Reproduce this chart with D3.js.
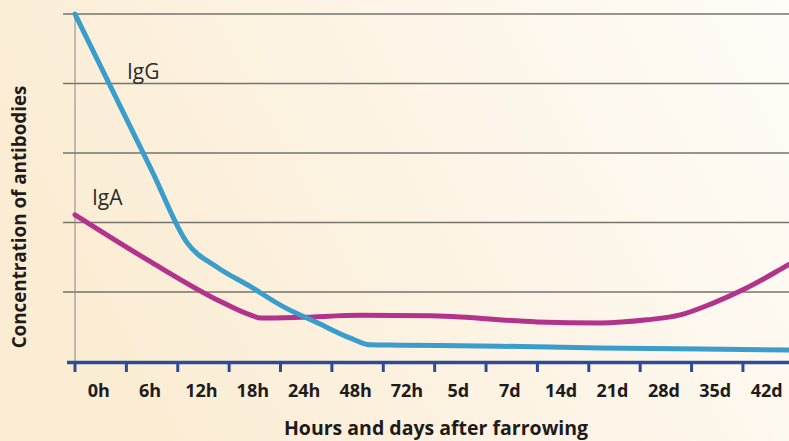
<!DOCTYPE html>
<html>
<head>
<meta charset="utf-8">
<script src="https://cdn.jsdelivr.net/npm/d3@7"></script>
<style>
html,body{margin:0;padding:0;overflow:hidden;}
svg{display:block;}
</style>
</head>
<body>
<svg id="chart" width="789" height="441"></svg>
<script>
// Category tick labels (x axis)
const categories = ["0h","6h","12h","18h","24h","48h","72h","5d","7d","14d","21d","28d","35d","42d"];
// Grid levels (y axis, arbitrary units)
const yLevels = [0,1,2,3,4,5];
// Series: [position along axis in category units, concentration]
const igG = [
  [0,5.0],[1.5,2.74],[2.18,1.71],[2.76,1.36],[3.41,1.08],[4.05,0.79],[4.71,0.56],
  [5.35,0.34],[5.74,0.24],[6.33,0.235],[8.27,0.22],[10.2,0.195],[12.2,0.18],[14,0.165]
];
const igA = [
  [0,2.11],[1.46,1.44],[2.76,0.89],[3.41,0.67],[3.62,0.625],[4.38,0.635],[5.55,0.665],
  [6.91,0.66],[7.49,0.64],[8.99,0.57],[10.22,0.555],[11.13,0.6],[11.78,0.67],
  [12.42,0.84],[13.08,1.06],[13.88,1.39],[14,1.44]
];
const seriesNames = ["IgG","IgA"];

const svg = d3.select("#chart");
const W = 789, H = 441;

// background
const defs = svg.append("defs");
const grad = defs.append("linearGradient").attr("id","bg").attr("x1","0").attr("y1","0.3").attr("x2","1").attr("y2","0");
grad.append("stop").attr("offset","0").attr("stop-color","#fbedd4");
grad.append("stop").attr("offset","0.55").attr("stop-color","#fdf5e8");
grad.append("stop").attr("offset","1").attr("stop-color","#fffdf8");
svg.append("rect").attr("width",W).attr("height",H).attr("fill","url(#bg)");

const x0 = 75, step = 51.38;
const x = d3.scaleLinear().domain([0, categories.length]).range([x0, x0 + step*categories.length]);
const band = d3.scaleBand().domain(categories).range([x0, x0 + step*categories.length]).padding(0);
const y = d3.scaleLinear().domain([0,5]).range([361.5, 14]);

// gridlines
svg.append("g").selectAll("line").data(yLevels.filter(d=>d>0)).join("line")
  .attr("x1",63).attr("x2",W).attr("y1",d=>y(d)).attr("y2",d=>y(d))
  .attr("stroke","#76736d").attr("stroke-width",1.4);

// vertical left line
svg.append("line").attr("x1",x(0)).attr("x2",x(0)).attr("y1",y(5)).attr("y2",y(0))
  .attr("stroke","#8a8680").attr("stroke-width",1);

// lines
const line = d3.line().x(d=>x(d[0])).y(d=>y(d[1])).curve(d3.curveMonotoneX);
svg.append("path").datum(igA).attr("d",line).attr("fill","none")
  .attr("stroke","#b3338c").attr("stroke-width",5).attr("stroke-linecap","round");
svg.append("path").datum(igG).attr("d",line).attr("fill","none")
  .attr("stroke","#3a9dcc").attr("stroke-width",5).attr("stroke-linecap","round");

// x axis
const axisY = 362.5;
svg.append("line").attr("x1",67).attr("x2",W).attr("y1",axisY).attr("y2",axisY)
  .attr("stroke","#2c4b9b").attr("stroke-width",3.5);
svg.append("g").selectAll("line").data(categories).join("line")
  .attr("x1",d=>band(d)).attr("x2",d=>band(d)).attr("y1",axisY).attr("y2",372)
  .attr("stroke","#2c4b9b").attr("stroke-width",3);
svg.append("g").selectAll("text").data(categories).join("text")
  .attr("x",d=>band(d)+band.bandwidth()/2 - 2).attr("y",396.5)
  .attr("text-anchor","middle")
  .attr("font-family","'Open Sans', sans-serif").attr("font-weight",700).attr("font-size",18)
  .attr("fill","#1e1b1a").text(d=>d);

// axis titles
svg.append("text").attr("x",436).attr("y",434.5).attr("text-anchor","middle")
  .attr("font-family","'Open Sans', sans-serif").attr("font-weight",700).attr("font-size",19.5)
  .attr("fill","#1e1b1a").text("Hours and days after farrowing");
svg.append("text").attr("transform","translate(26,217) rotate(-90)").attr("text-anchor","middle")
  .attr("font-family","'Open Sans', sans-serif").attr("font-weight",700).attr("font-size",18.8)
  .attr("fill","#1e1b1a").text("Concentration of antibodies");

// series labels
const labelPos = {IgG:[127,79], IgA:[92,205]};
svg.append("g").selectAll("text").data(seriesNames).join("text")
  .attr("x",d=>labelPos[d][0]).attr("y",d=>labelPos[d][1])
  .attr("font-family","'Open Sans', sans-serif").attr("font-size",21)
  .attr("fill","#2e2b28").text(d=>d);
</script>
</body>
</html>
